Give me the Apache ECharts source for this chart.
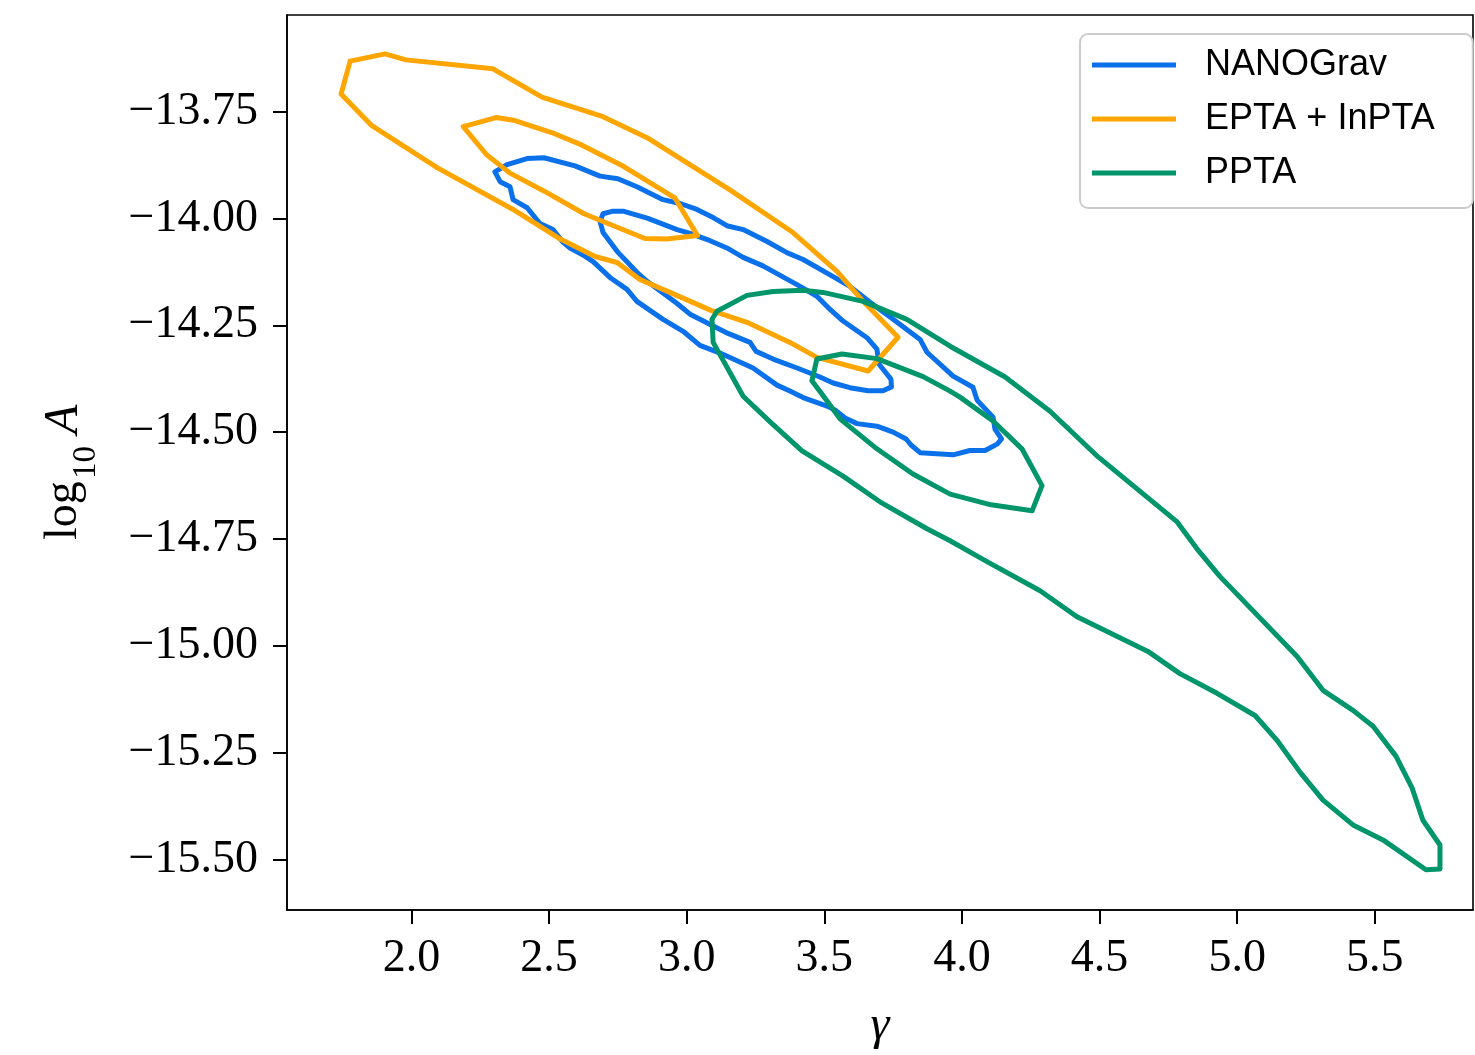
<!DOCTYPE html>
<html>
<head>
<meta charset="utf-8">
<script src="https://cdn.jsdelivr.net/npm/echarts@6/dist/echarts.min.js"></script>
<style>
html,body{margin:0;padding:0;background:#fff;}
#chart{width:1475px;height:1055px;}
</style>
</head>
<body>
<div id="chart"></div>
<script>
// ---- data: contour paths as [gamma, log10A] ----
const nanogravOuter = [[2.303,-13.891],[2.347,-13.874],[2.420,-13.860],[2.481,-13.858],[2.594,-13.877],[2.685,-13.901],[2.750,-13.907],[2.819,-13.926],[2.914,-13.956],[2.976,-13.965],[3.037,-13.979],[3.096,-13.998],[3.146,-14.017],[3.205,-14.026],[3.292,-14.054],[3.364,-14.080],[3.423,-14.096],[3.532,-14.136],[3.593,-14.159],[3.666,-14.196],[3.750,-14.236],[3.848,-14.283],[3.873,-14.313],[3.968,-14.369],[4.040,-14.395],[4.055,-14.425],[4.113,-14.465],[4.120,-14.493],[4.144,-14.516],[4.128,-14.528],[4.084,-14.543],[4.029,-14.543],[3.968,-14.553],[3.848,-14.548],[3.815,-14.530],[3.797,-14.516],[3.750,-14.500],[3.691,-14.486],[3.619,-14.480],[3.575,-14.467],[3.539,-14.448],[3.510,-14.439],[3.423,-14.419],[3.375,-14.404],[3.328,-14.390],[3.241,-14.350],[3.121,-14.315],[3.048,-14.297],[2.987,-14.264],[2.914,-14.236],[2.819,-14.194],[2.783,-14.166],[2.721,-14.138],[2.660,-14.101],[2.630,-14.088],[2.576,-14.069],[2.551,-14.056],[2.514,-14.026],[2.467,-14.012],[2.420,-13.975],[2.369,-13.956],[2.358,-13.926],[2.322,-13.914],[2.303,-13.891]];
const nanogravInner = [[2.685,-14.007],[2.696,-13.989],[2.732,-13.983],[2.769,-13.983],[2.859,-14.000],[2.965,-14.026],[3.012,-14.035],[3.085,-14.052],[3.146,-14.069],[3.205,-14.091],[3.277,-14.111],[3.412,-14.159],[3.473,-14.182],[3.521,-14.213],[3.568,-14.240],[3.655,-14.279],[3.691,-14.306],[3.699,-14.341],[3.742,-14.376],[3.744,-14.394],[3.713,-14.403],[3.659,-14.403],[3.593,-14.396],[3.532,-14.385],[3.484,-14.371],[3.401,-14.350],[3.314,-14.329],[3.252,-14.311],[3.230,-14.290],[3.150,-14.269],[3.048,-14.236],[3.012,-14.224],[2.965,-14.199],[2.856,-14.147],[2.819,-14.126],[2.747,-14.077],[2.696,-14.033],[2.685,-14.007]];
const eptaOuter = [[1.777,-13.632],[1.904,-13.615],[1.980,-13.629],[2.296,-13.650],[2.474,-13.716],[2.696,-13.762],[2.856,-13.811],[3.157,-13.933],[3.386,-14.033],[3.546,-14.124],[3.641,-14.194],[3.768,-14.278],[3.659,-14.357],[3.473,-14.325],[3.375,-14.290],[3.219,-14.243],[3.088,-14.215],[2.939,-14.173],[2.830,-14.143],[2.747,-14.103],[2.667,-14.089],[2.532,-14.045],[2.369,-13.979],[2.093,-13.881],[1.856,-13.783],[1.744,-13.709],[1.777,-13.632]];
const eptaInner = [[2.188,-13.785],[2.307,-13.764],[2.376,-13.771],[2.509,-13.799],[2.618,-13.828],[2.770,-13.878],[2.957,-13.952],[3.039,-14.040],[2.927,-14.048],[2.848,-14.047],[2.627,-13.989],[2.479,-13.935],[2.358,-13.894],[2.273,-13.851],[2.188,-13.785]];
const pptaOuter = [[3.092,-14.236],[3.110,-14.217],[3.219,-14.180],[3.314,-14.171],[3.423,-14.168],[3.495,-14.173],[3.641,-14.194],[3.800,-14.236],[3.957,-14.299],[4.157,-14.371],[4.320,-14.451],[4.495,-14.558],[4.782,-14.710],[4.854,-14.773],[4.938,-14.838],[5.218,-15.025],[5.312,-15.104],[5.421,-15.151],[5.494,-15.188],[5.577,-15.258],[5.636,-15.333],[5.675,-15.408],[5.737,-15.466],[5.737,-15.522],[5.686,-15.524],[5.530,-15.454],[5.421,-15.419],[5.312,-15.361],[5.229,-15.296],[5.145,-15.221],[5.065,-15.163],[4.927,-15.111],[4.792,-15.065],[4.676,-15.013],[4.418,-14.932],[4.284,-14.871],[4.091,-14.803],[3.957,-14.754],[3.873,-14.726],[3.702,-14.663],[3.568,-14.603],[3.419,-14.544],[3.303,-14.476],[3.205,-14.416],[3.096,-14.290],[3.092,-14.236]];
const pptaInner = [[3.455,-14.380],[3.473,-14.329],[3.564,-14.317],[3.691,-14.328],[3.859,-14.370],[3.957,-14.404],[3.993,-14.418],[4.113,-14.474],[4.218,-14.539],[4.291,-14.625],[4.255,-14.684],[4.106,-14.670],[3.957,-14.645],[3.822,-14.598],[3.691,-14.539],[3.557,-14.469],[3.510,-14.427],[3.455,-14.380]];

const seriesNames = ['NANOGrav', 'EPTA + InPTA', 'PPTA'];
const xTicks = [2.0, 2.5, 3.0, 3.5, 4.0, 4.5, 5.0, 5.5];
const yTicks = [-13.75, -14.00, -14.25, -14.50, -14.75, -15.00, -15.25, -15.50];
const xRange = [1.5476, 5.857];
const yRange = [-15.618, -13.524];

const colors = {'NANOGrav': '#0a71ea', 'EPTA + InPTA': '#ffa500', 'PPTA': '#00956a'};
const serif = '"Liberation Serif", "Times New Roman", serif';
const sans = '"Liberation Sans", Arial, sans-serif';

function contour(name, data) {
  return {
    name: name, type: 'line', data: data,
    showSymbol: false, symbol: 'none', smooth: false,
    itemStyle: {color: colors[name]},
    lineStyle: {width: 5, color: colors[name], cap: 'round', join: 'round'},
    emphasis: {disabled: true}, silent: true, animation: false
  };
}

const chart = echarts.init(document.getElementById('chart'), null, {renderer: 'canvas'});
chart.setOption({
  animation: false,
  backgroundColor: '#ffffff',
  grid: {left: 287, top: 15, right: 2, bottom: 143, show: true, borderColor: '#000', borderWidth: 1.6, backgroundColor: 'transparent'},
  xAxis: {
    type: 'value', min: xRange[0], max: xRange[1],
    name: 'γ', nameLocation: 'middle', nameGap: 92,
    nameTextStyle: {fontFamily: serif, fontSize: 48, fontStyle: 'italic', color: '#000'},
    axisLine: {show: true, lineStyle: {color: '#000', width: 1.6}},
    axisTick: {show: true, inside: false, length: 14, lineStyle: {color: '#000', width: 2}, customValues: xTicks},
    axisLabel: {show: true, margin: 26, color: '#000', fontFamily: serif, fontSize: 46, customValues: xTicks,
      formatter: v => v.toFixed(1)},
    splitLine: {show: false}
  },
  yAxis: {
    type: 'value', min: yRange[0], max: yRange[1],
    axisLine: {show: true, lineStyle: {color: '#000', width: 1.6}},
    axisTick: {show: true, inside: false, length: 14, lineStyle: {color: '#000', width: 2}, customValues: yTicks},
    axisLabel: {show: true, margin: 29, color: '#000', fontFamily: serif, fontSize: 46, customValues: yTicks,
      formatter: v => (v < 0 ? '\u2212' : '') + Math.abs(v).toFixed(2)},
    splitLine: {show: false}
  },
  legend: {
    data: seriesNames, orient: 'vertical', left: 1080, top: 34,
    icon: 'rect', itemWidth: 84, itemHeight: 5, itemGap: 18,
    padding: [13, 38, 17, 12],
    backgroundColor: '#fff', borderColor: '#cccccc', borderWidth: 2, borderRadius: 8,
    textStyle: {fontFamily: sans, fontSize: 36, lineHeight: 36, color: '#000', padding: [0, 0, 0, 24]},
    selectedMode: false
  },
  graphic: [{
    type: 'group', x: 64, y: 540, rotation: Math.PI / 2,
    children: [
      {type: 'text', x: 0, y: 0, style: {text: 'log', fontFamily: serif, fontSize: 46, fill: '#000', align: 'left', verticalAlign: 'middle'}},
      {type: 'text', x: 61, y: 22, style: {text: '10', fontFamily: serif, fontSize: 33, fill: '#000', align: 'left', verticalAlign: 'middle'}},
      {type: 'text', x: 106, y: 0, style: {text: 'A', fontFamily: serif, fontSize: 48, fontStyle: 'italic', fill: '#000', align: 'left', verticalAlign: 'middle'}}
    ]
  }],
  series: [
    contour('NANOGrav', nanogravOuter),
    contour('NANOGrav', nanogravInner),
    contour('EPTA + InPTA', eptaOuter),
    contour('EPTA + InPTA', eptaInner),
    contour('PPTA', pptaOuter),
    contour('PPTA', pptaInner)
  ]
});
</script>
</body>
</html>
